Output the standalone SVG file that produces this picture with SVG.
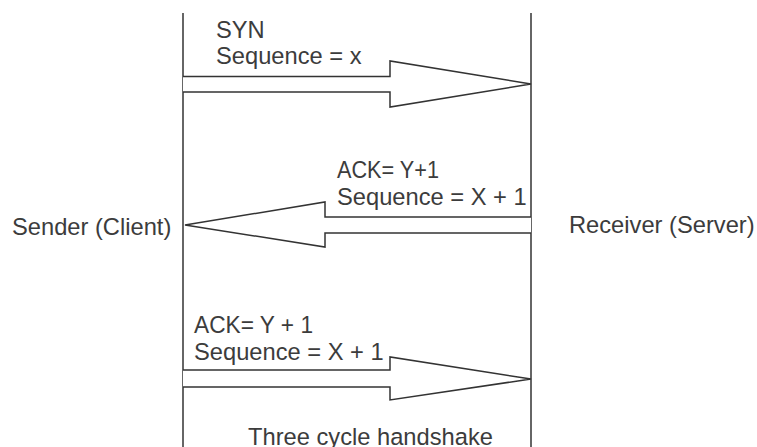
<svg xmlns="http://www.w3.org/2000/svg" width="757" height="447" viewBox="0 0 757 447">
  <style>
    .lane { stroke: #333; stroke-width: 1.5; fill: none; }
    .msg { stroke: #333; stroke-width: 1.5; fill: #fff; stroke-linejoin: miter; }
    text { font-family: "Liberation Sans", Arial, sans-serif; font-size: 23.7px; fill: #3c3c3c; }
  </style>
  <rect width="757" height="447" fill="#fff"/>

  <!-- lifelines -->
  <g id="client">
    <line class="lane" x1="183" y1="13" x2="183" y2="447"/>
    <text x="12" y="235">Sender (Client)</text>
  </g>
  <g id="server">
    <line class="lane" x1="531" y1="13" x2="531" y2="447"/>
    <text x="569" y="233">Receiver (Server)</text>
  </g>

  <!-- block arrows for the three messages -->
  <g id="connectors">
    <path class="msg" d="M183,76.5 H390 V61 L531,84 L390,107 V92 H183"/>
    <path class="msg" d="M531,217 H325 V202 L185,225 L325,247 V233 H531"/>
    <path class="msg" d="M183,370 H390 V357 L531,379 L390,400 V387 H183"/>
  </g>

  <g id="syn-label">
    <text x="216" y="38">SYN</text>
    <text x="216" y="64">Sequence = x</text>
  </g>
  <g id="synack-label">
    <text x="337" y="178" textLength="102" lengthAdjust="spacingAndGlyphs">ACK= Y+1</text>
    <text x="337" y="205">Sequence = X + 1</text>
  </g>
  <g id="ack-label">
    <text x="194" y="333" textLength="119" lengthAdjust="spacingAndGlyphs">ACK= Y + 1</text>
    <text x="194" y="360">Sequence = X + 1</text>
  </g>
  <g id="caption">
    <text x="248" y="445">Three cycle handshake</text>
  </g>
</svg>
